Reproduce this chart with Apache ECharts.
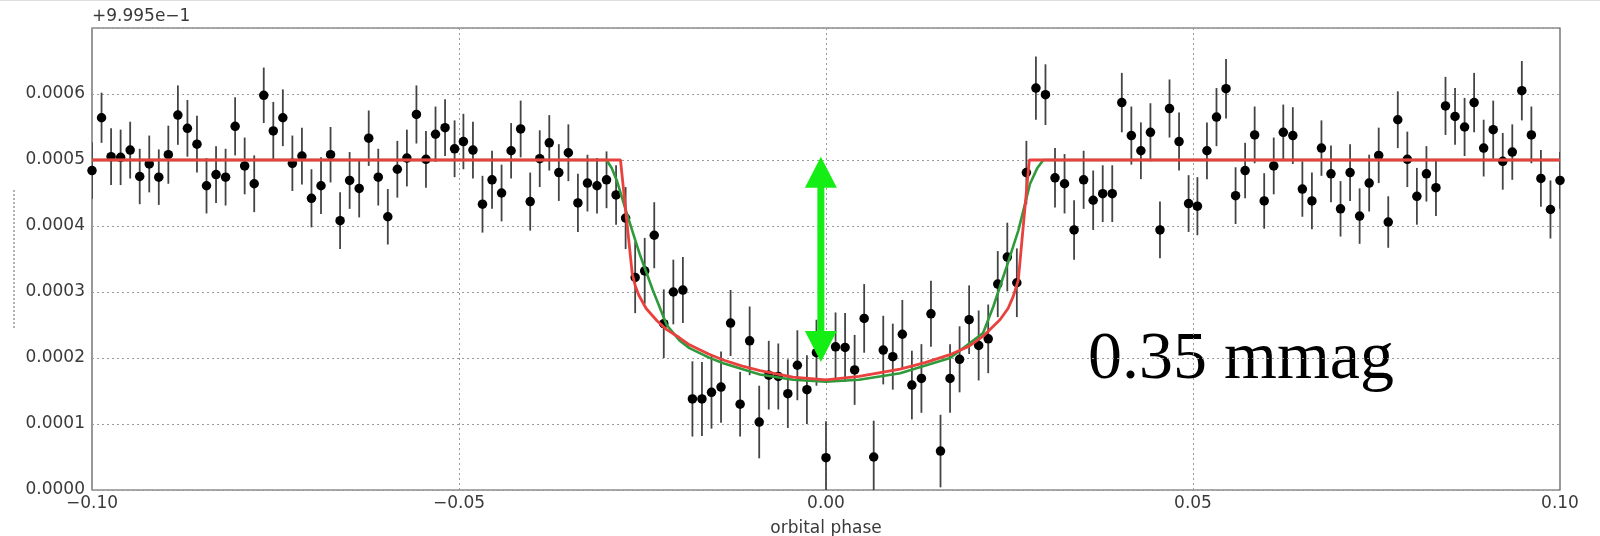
<!DOCTYPE html>
<html>
<head>
<meta charset="utf-8">
<title>Transit light curve</title>
<script src="https://cdn.jsdelivr.net/npm/echarts@6/dist/echarts.min.js"></script>
<style>
  html, body { margin: 0; padding: 0; background: #fff; }
  #chart { width: 1600px; height: 536px; }
</style>
</head>
<body>
<div id="chart"></div>
<script>
// orbital phase of every binned point
const phase = [
  -0.1000, -0.0987, -0.0974, -0.0961, -0.0948, -0.0935, -0.0922, -0.0909, -0.0896, -0.0883, -0.0870,
  -0.0857, -0.0844, -0.0831, -0.0818, -0.0805, -0.0792, -0.0779, -0.0766, -0.0753, -0.0740, -0.0727,
  -0.0714, -0.0701, -0.0688, -0.0675, -0.0662, -0.0649, -0.0636, -0.0623, -0.0610, -0.0597, -0.0584,
  -0.0571, -0.0558, -0.0545, -0.0532, -0.0519, -0.0506, -0.0494, -0.0481, -0.0468, -0.0455, -0.0442,
  -0.0429, -0.0416, -0.0403, -0.0390, -0.0377, -0.0364, -0.0351, -0.0338, -0.0325, -0.0312, -0.0299,
  -0.0286, -0.0273, -0.0260, -0.0247, -0.0234, -0.0221, -0.0208, -0.0195, -0.0182, -0.0169, -0.0156,
  -0.0143, -0.0130, -0.0117, -0.0104, -0.0091, -0.0078, -0.0065, -0.0052, -0.0039, -0.0026, -0.0013,
  0.0000, 0.0013, 0.0026, 0.0039, 0.0052, 0.0065, 0.0078, 0.0091, 0.0104, 0.0117, 0.0130,
  0.0143, 0.0156, 0.0169, 0.0182, 0.0195, 0.0208, 0.0221, 0.0234, 0.0247, 0.0260, 0.0273,
  0.0286, 0.0299, 0.0312, 0.0325, 0.0338, 0.0351, 0.0364, 0.0377, 0.0390, 0.0403, 0.0416,
  0.0429, 0.0442, 0.0455, 0.0468, 0.0481, 0.0494, 0.0506, 0.0519, 0.0532, 0.0545, 0.0558,
  0.0571, 0.0584, 0.0597, 0.0610, 0.0623, 0.0636, 0.0649, 0.0662, 0.0675, 0.0688, 0.0701,
  0.0714, 0.0727, 0.0740, 0.0753, 0.0766, 0.0779, 0.0792, 0.0805, 0.0818, 0.0831, 0.0844,
  0.0857, 0.0870, 0.0883, 0.0896, 0.0909, 0.0922, 0.0935, 0.0948, 0.0961, 0.0974, 0.0987,
  0.1000
];

// flux minus 0.9995, in units of 1e-4
const flux = [
  4.84, 5.64, 5.05, 5.04, 5.15, 4.75, 4.94, 4.74, 5.08, 5.68, 5.48,
  5.24, 4.61, 4.78, 4.74, 5.51, 4.91, 4.64, 5.98, 5.44, 5.64, 4.95,
  5.06, 4.42, 4.61, 5.08, 4.08, 4.69, 4.57, 5.33, 4.74, 4.14, 4.86,
  5.03, 5.69, 5.01, 5.39, 5.49, 5.17, 5.28, 5.15, 4.33, 4.70, 4.50,
  5.14, 5.47, 4.37, 5.02, 5.26, 4.81, 5.11, 4.35, 4.65, 4.61, 4.70,
  4.47, 4.12, 3.22, 3.32, 3.86, 2.52, 3.00, 3.03, 1.38, 1.38, 1.48,
  1.56, 2.53, 1.30, 2.26, 1.03, 1.74, 1.72, 1.46, 1.89, 1.52, 2.08,
  0.49, 2.17, 2.16, 1.82, 2.60, 0.50, 2.12, 2.02, 2.36, 1.59, 1.69,
  2.67, 0.59, 1.69, 1.98, 2.58, 2.19, 2.29, 3.12, 3.53, 3.14, 4.81,
  6.09, 5.99, 4.73, 4.64, 3.94, 4.70, 4.39, 4.49, 4.49, 5.87, 5.37,
  5.14, 5.42, 3.94, 5.78, 5.28, 4.34, 4.30, 5.14, 5.65, 6.08, 4.46,
  4.84, 5.38, 4.38, 4.91, 5.42, 5.37, 4.56, 4.38, 5.18, 4.79, 4.26,
  4.81, 4.15, 4.65, 5.07, 4.06, 5.61, 5.01, 4.45, 4.79, 4.58, 5.82,
  5.66, 5.50, 5.87, 5.18, 5.46, 4.98, 5.12, 6.05, 5.38, 4.72, 4.25,
  4.69
];

// half length of each error bar, same units
const fluxErr = [
  0.43, 0.38, 0.43, 0.42, 0.43, 0.42, 0.43, 0.42, 0.44, 0.45, 0.43,
  0.43, 0.42, 0.43, 0.43, 0.44, 0.43, 0.43, 0.42, 0.44, 0.43, 0.42,
  0.43, 0.44, 0.43, 0.42, 0.43, 0.43, 0.44, 0.42, 0.43, 0.42, 0.43,
  0.43, 0.44, 0.43, 0.42, 0.43, 0.43, 0.42, 0.43, 0.43, 0.44, 0.43,
  0.42, 0.43, 0.44, 0.43, 0.42, 0.43, 0.43, 0.44, 0.43, 0.42, 0.43,
  0.45, 0.47, 0.54, 0.50, 0.50, 0.52, 0.49, 0.50, 0.57, 0.56, 0.55,
  0.54, 0.50, 0.49, 0.52, 0.55, 0.52, 0.50, 0.52, 0.53, 0.52, 0.50,
  0.55, 0.52, 0.52, 0.53, 0.52, 0.55, 0.52, 0.50, 0.52, 0.52, 0.52,
  0.50, 0.55, 0.52, 0.50, 0.52, 0.53, 0.52, 0.50, 0.52, 0.52, 0.48,
  0.48, 0.46, 0.45, 0.45, 0.45, 0.44, 0.45, 0.43, 0.43, 0.45, 0.44,
  0.43, 0.44, 0.43, 0.44, 0.44, 0.43, 0.44, 0.43, 0.44, 0.45, 0.43,
  0.42, 0.43, 0.42, 0.43, 0.42, 0.43, 0.42, 0.43, 0.42, 0.43, 0.42,
  0.43, 0.42, 0.43, 0.42, 0.39, 0.43, 0.42, 0.43, 0.42, 0.43, 0.44,
  0.43, 0.44, 0.45, 0.43, 0.44, 0.43, 0.42, 0.45, 0.43, 0.43, 0.44,
  0.43
];

// red model (sharp ingress/egress)
const redPhase = [-0.1, -0.0280, -0.0264, -0.0260, -0.0255, -0.0245, -0.0230, -0.0217, -0.0200, -0.0186,
  -0.0160, -0.0140, -0.0115, -0.0090, -0.0045, 0, 0.0045, 0.0101, 0.0135, 0.0169,
  0.0195, 0.0214, 0.0237, 0.0248, 0.0255, 0.0262, 0.0277, 0.1];
const redFlux = [5.0, 5.0, 3.28, 3.10, 2.95, 2.75, 2.56, 2.43, 2.31, 2.20,
  2.06, 1.97, 1.88, 1.81, 1.71, 1.67, 1.72, 1.83, 1.93, 2.05,
  2.18, 2.33, 2.58, 2.75, 2.93, 3.18, 5.0, 5.0];

// green model (smoother ingress/egress)
const greenPhase = [-0.1, -0.0299, -0.0292, -0.0285, -0.0272, -0.0254, -0.0236, -0.0217, -0.0200, -0.0186,
  -0.0160, -0.0140, -0.0090, -0.0045, 0, 0.0045, 0.0101, 0.0169, 0.0214, 0.0228,
  0.0246, 0.0262, 0.0278, 0.0288, 0.0296, 0.1];
const greenFlux = [5.0, 5.0, 4.88, 4.69, 4.21, 3.58, 3.03, 2.50, 2.27, 2.15,
  2.01, 1.92, 1.75, 1.67, 1.64, 1.67, 1.77, 2.00, 2.38, 2.78,
  3.38, 3.93, 4.64, 4.88, 5.0, 5.0];

const xTickLabels = ['−0.10', '−0.05', '0.00', '0.05', '0.10'];
const yTickLabels = ['0.0000', '0.0001', '0.0002', '0.0003', '0.0004', '0.0005', '0.0006', '0.0007'];
const offsetLabel = '+9.995e−1';
const xName = 'orbital phase';
const depthNote = '0.35 mmag';

// depth arrow, in data units
const arrowPhase = -0.0007;
const arrowTop = 5.05;
const arrowBottom = 1.94;

const textColor = '#3a3a3a';
const arrowColor = '#14ee14';

const chart = echarts.init(document.getElementById('chart'));

const points = phase.map((p, i) => [p, flux[i], fluxErr[i]]);

chart.setOption({
  animation: false,
  backgroundColor: '#fff',
  textStyle: { fontFamily: 'DejaVu Sans' },
  grid: {
    left: 92, right: 40, top: 28, bottom: 46,
    outerBoundsMode: 'none',
    containLabel: false,
    show: true, borderColor: '#555', borderWidth: 1.2
  },
  xAxis: {
    type: 'value',
    min: -0.1, max: 0.1, interval: 0.05,
    name: xName,
    nameLocation: 'middle',
    nameGap: 30,
    nameTextStyle: { color: textColor, fontSize: 17 },
    axisLine: { show: false },
    axisTick: { show: false },
    axisLabel: {
      color: textColor, fontSize: 17, margin: 5,
      formatter: (v) => xTickLabels[Math.round((v + 0.1) / 0.05)]
    },
    splitLine: { show: true, lineStyle: { color: '#9a9a9a', type: [2, 3], width: 1 } }
  },
  yAxis: {
    type: 'value',
    min: 0, max: 7, interval: 1,
    axisLine: { show: false },
    axisTick: { show: false },
    axisLabel: {
      color: textColor, fontSize: 17, margin: 7, showMaxLabel: false,
      formatter: (v) => yTickLabels[Math.round(v)]
    },
    splitLine: { show: true, lineStyle: { color: '#9a9a9a', type: [2, 3], width: 1 } }
  },
  series: [
    {
      type: 'custom',
      clip: true,
      silent: true,
      z: 2,
      data: points,
      encode: { x: 0, y: 1 },
      renderItem: (params, api) => {
        const x = api.value(0);
        const y = api.value(1);
        const e = api.value(2);
        const hi = api.coord([x, y + e]);
        const lo = api.coord([x, y - e]);
        return {
          type: 'line',
          shape: { x1: hi[0], y1: hi[1], x2: lo[0], y2: lo[1] },
          style: { stroke: '#444', lineWidth: 1.8 }
        };
      }
    },
    {
      type: 'scatter',
      z: 3,
      silent: true,
      symbolSize: 9.5,
      itemStyle: { color: '#000', opacity: 1 },
      data: points.map((d) => [d[0], d[1]])
    },
    {
      type: 'line',
      z: 4,
      silent: true,
      showSymbol: false,
      lineStyle: { color: '#2f9a3c', width: 2.6 },
      data: greenPhase.map((p, i) => [p, greenFlux[i]])
    },
    {
      type: 'line',
      z: 5,
      silent: true,
      showSymbol: false,
      lineStyle: { color: '#e8413e', width: 2.8 },
      data: redPhase.map((p, i) => [p, redFlux[i]])
    },
    {
      type: 'custom',
      z: 6,
      silent: true,
      data: [[arrowPhase, arrowTop, arrowBottom]],
      encode: { x: 0, y: 1 },
      renderItem: (params, api) => {
        const top = api.coord([api.value(0), api.value(1)]);
        const bot = api.coord([api.value(0), api.value(2)]);
        const hw = 16, hh = 31, sw = 3.5;
        return {
          type: 'group',
          children: [
            {
              type: 'rect',
              shape: { x: top[0] - sw, y: top[1] + hh - 1, width: sw * 2, height: bot[1] - top[1] - hh * 2 + 2 },
              style: { fill: arrowColor }
            },
            {
              type: 'polygon',
              shape: { points: [[top[0] - hw, top[1] + hh], [top[0], top[1]], [top[0] + hw, top[1] + hh]] },
              style: { fill: arrowColor }
            },
            {
              type: 'polygon',
              shape: { points: [[bot[0] - hw, bot[1] - hh], [bot[0], bot[1]], [bot[0] + hw, bot[1] - hh]] },
              style: { fill: arrowColor }
            }
          ]
        };
      }
    }
  ],
  graphic: [
    {
      type: 'text',
      left: 92, top: 8,
      style: { text: offsetLabel, font: '17px "DejaVu Sans"', fill: textColor }
    },
    {
      type: 'text',
      x: 1088, y: 360,
      style: { text: depthNote, font: '68px "Liberation Serif"', fill: '#000', verticalAlign: 'middle' }
    },
    {
      type: 'line',
      shape: { x1: 14, y1: 190, x2: 14, y2: 328 },
      style: { stroke: '#666', lineWidth: 1, lineDash: [2, 2] }
    },
    {
      type: 'line',
      shape: { x1: 0, y1: 0.5, x2: 1600, y2: 0.5 },
      style: { stroke: '#dddddd', lineWidth: 1 }
    }
  ]
});
</script>
</body>
</html>
